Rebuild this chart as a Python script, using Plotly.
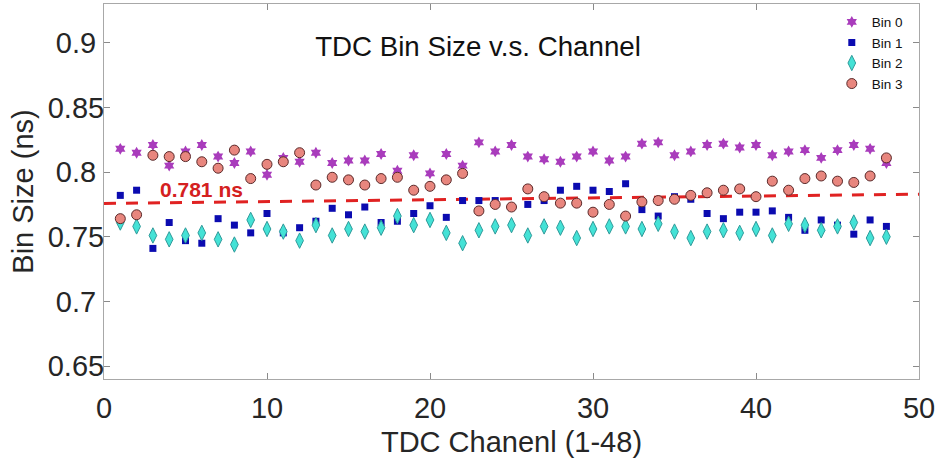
import plotly.graph_objects as go

channels = list(range(1, 49))

bin0 = [0.818, 0.815, 0.821, 0.805, 0.816, 0.821, 0.812, 0.807, 0.816, 0.798, 0.811, 0.808,
        0.815, 0.807, 0.809, 0.809, 0.814, 0.801, 0.813, 0.799, 0.814, 0.805, 0.823, 0.816,
        0.821, 0.812, 0.810, 0.808, 0.812, 0.816, 0.809, 0.812, 0.822, 0.823, 0.813, 0.816,
        0.821, 0.822, 0.819, 0.821, 0.813, 0.816, 0.817, 0.811, 0.817, 0.821, 0.818, 0.807]
bin1 = [0.782, 0.786, 0.741, 0.761, 0.747, 0.745, 0.764, 0.759, 0.753, 0.768, 0.753, 0.757,
        0.762, 0.772, 0.767, 0.773, 0.761, 0.762, 0.768, 0.774, 0.765, 0.778, 0.778, 0.778,
        0.773, 0.775, 0.778, 0.786, 0.789, 0.786, 0.785, 0.791, 0.771, 0.766, 0.781, 0.779,
        0.768, 0.764, 0.769, 0.769, 0.770, 0.765, 0.755, 0.763, 0.759, 0.752, 0.763, 0.758]
bin2 = [0.761, 0.758, 0.751, 0.748, 0.751, 0.753, 0.748, 0.744, 0.763, 0.756, 0.754, 0.747,
        0.759, 0.751, 0.756, 0.754, 0.757, 0.766, 0.759, 0.763, 0.753, 0.745, 0.755, 0.758,
        0.759, 0.751, 0.758, 0.757, 0.749, 0.756, 0.758, 0.758, 0.756, 0.760, 0.754, 0.749,
        0.754, 0.755, 0.753, 0.756, 0.751, 0.760, 0.759, 0.755, 0.758, 0.761, 0.749, 0.750]
bin3 = [0.764, 0.767, 0.813, 0.812, 0.812, 0.808, 0.803, 0.817, 0.795, 0.806, 0.808, 0.815,
        0.790, 0.796, 0.794, 0.790, 0.795, 0.796, 0.786, 0.789, 0.794, 0.799, 0.770, 0.775,
        0.773, 0.787, 0.781, 0.776, 0.776, 0.769, 0.775, 0.766, 0.777, 0.778, 0.779, 0.782,
        0.784, 0.786, 0.787, 0.781, 0.793, 0.786, 0.795, 0.797, 0.793, 0.792, 0.797, 0.811]

fit_x = [0, 50]
fit_y = [0.7758, 0.7829]
mean_label = "0.781 ns"
label_pos = (6.0, 0.7866)

yticks = [0.65, 0.7, 0.75, 0.8, 0.85, 0.9]
ytick_labels = ["0.65", "0.7\u00a0", "0.75", "0.8\u00a0", "0.85", "0.9\u00a0"]
xticks = [0, 10, 20, 30, 40, 50]

font_family = "Liberation Sans, Arial, sans-serif"

fig = go.Figure()

fig.add_trace(go.Scatter(x=fit_x, y=fit_y, mode="lines",
                         line=dict(color="#e02222", width=3, dash="12px,10px"),
                         showlegend=False, hoverinfo="skip"))

fig.add_trace(go.Scatter(x=channels, y=bin0, mode="markers", name="Bin 0",
                         marker=dict(symbol="hexagram", size=9, color="#a93cbc",
                                     line=dict(width=0))))
fig.add_trace(go.Scatter(x=channels, y=bin1, mode="markers", name="Bin 1",
                         marker=dict(symbol="square", size=7, color="#0b0bb0",
                                     line=dict(width=0))))
fig.add_trace(go.Scatter(x=channels, y=bin2, mode="markers", name="Bin 2",
                         marker=dict(symbol="diamond-tall", size=11, color="#44e2d6",
                                     line=dict(width=1, color="#2f9a9a"))))
fig.add_trace(go.Scatter(x=channels, y=bin3, mode="markers", name="Bin 3",
                         marker=dict(symbol="circle", size=10, color="#e8867e",
                                     line=dict(width=1, color="#5a2a2a"))))

fig.add_annotation(x=label_pos[0], y=label_pos[1], text="<b>" + mean_label + "</b>",
                   showarrow=False, xanchor="center", yanchor="middle",
                   font=dict(size=21, color="#d42020", family=font_family))

axis_common = dict(showline=True, linecolor="#a8a8a8", linewidth=1, mirror="allticks",
                   ticks="inside", ticklen=6, tickcolor="#8a8a8a", showgrid=False,
                   zeroline=False, automargin=False,
                   tickfont=dict(size=29, color="#262626", family=font_family))

fig.update_layout(
    width=936, height=462,
    margin=dict(l=104, r=17, t=4, b=83),
    paper_bgcolor="white", plot_bgcolor="white",
    font=dict(family=font_family, color="#262626"),
    title=dict(text="TDC Bin Size v.s. Channel", x=478 / 936, y=1 - 46 / 462,
               xanchor="center", yanchor="middle",
               font=dict(size=27.7, color="#111111", family=font_family)),
    xaxis=dict(range=[0, 50], tickvals=xticks,
               title=dict(text="TDC Chanenl (1-48)", font=dict(size=29, color="#262626"), standoff=8),
               ticklabelstandoff=3, **axis_common),
    yaxis=dict(range=[0.64, 0.93], tickvals=yticks, ticktext=ytick_labels,
               title=dict(text="Bin Size (ns)", font=dict(size=29, color="#262626"), standoff=5),
               ticklabelstandoff=-7, **axis_common),
    legend=dict(x=0.893, y=0.993, xanchor="left", yanchor="top",
                bgcolor="rgba(0,0,0,0)", font=dict(size=13.5, color="#111111", family=font_family),
                itemsizing="trace"),
)

fig.write_html("out.html", config={"displayModeBar": False},
               post_script="document.body.style.margin='0px';")
